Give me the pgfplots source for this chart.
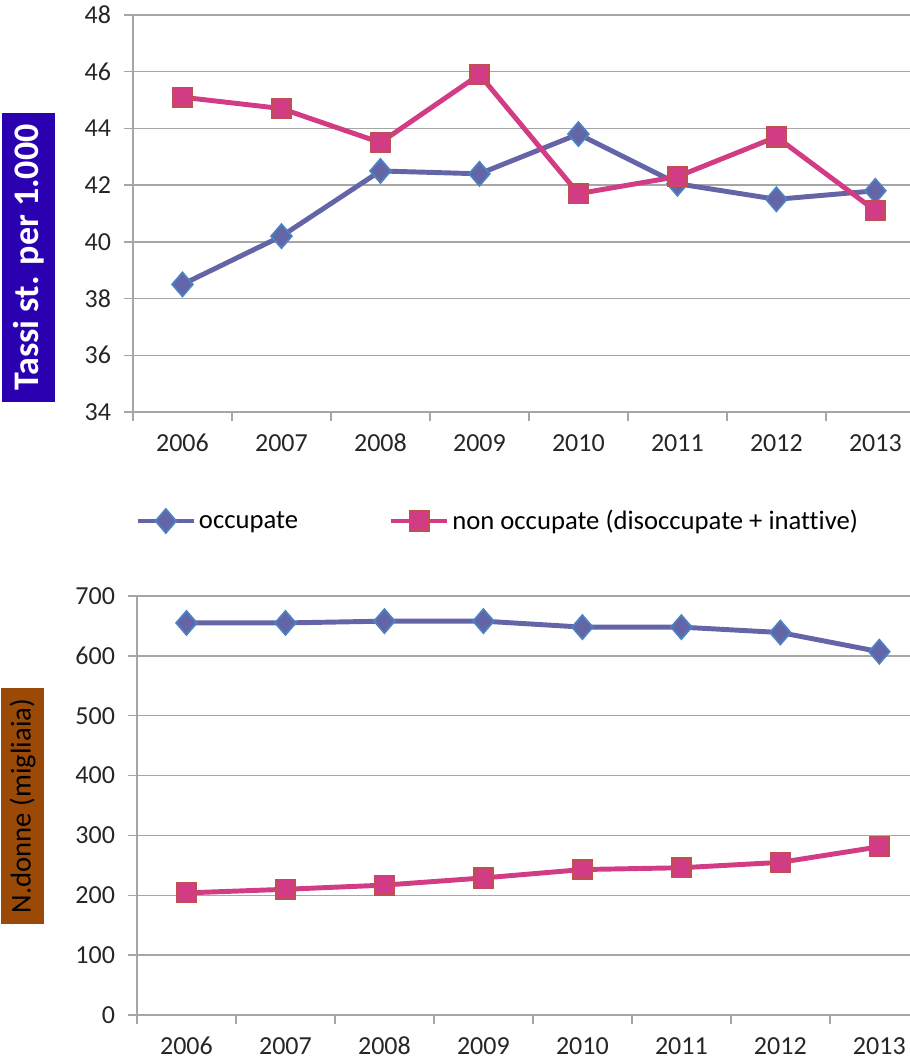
\documentclass[border=0pt]{standalone}
\usepackage{fontspec}
\setmainfont{Carlito}[Ligatures={NoCommon}]
\usepackage{pgfplots}
\pgfplotsset{compat=1.18}
\definecolor{occ}{HTML}{6465A6}
\definecolor{occedge}{HTML}{4A82C3}
\definecolor{non}{HTML}{D23C84}
\definecolor{nonedge}{HTML}{C0504D}
\definecolor{gridc}{HTML}{A6A6A6}
\definecolor{tickc}{HTML}{262626}
\definecolor{boxblue}{HTML}{2B00B0}
\definecolor{boxbrown}{HTML}{9A4A06}

\pgfplotstableread{
x occ non
0 38.5 45.1
1 40.2 44.7
2 42.5 43.5
3 42.4 45.9
4 43.8 41.7
5 42.05 42.3
6 41.5 43.7
7 41.8 41.1
}\tassi

\pgfplotstableread{
x occ non
0 655 204
1 655 210
2 658 217
3 658 229
4 648 243
5 648 246
6 639 255
7 607 281
}\donne

\pgfplotsset{
  mystyle/.style={
    scale only axis,
    xmin=-0.5,
    ymajorgrids,
    grid style={gridc, line width=1.1pt},
    axis x line*=bottom, axis y line*=left,
    axis line style={gridc, line width=1.1pt},
    xtick={0,1,2,3,4,5,6,7},
    xticklabels={2006,2007,2008,2009,2010,2011,2012,2013},
    major x tick style={draw=none},
    extra x ticks={-0.5,0.5,1.5,2.5,3.5,4.5,5.5,6.5},
    extra x tick labels={},
    extra x tick style={tick align=outside, major tick length=7pt, major x tick style={draw=gridc, line width=1.1pt}},
    ytick align=outside,
    major y tick style={gridc, line width=1.1pt},
    major tick length=7pt,
    tick label style={font=\fontsize{19.5}{19.5}\selectfont, text=tickc},
    /pgf/number format/assume math mode=true,
    xticklabel style={anchor=base, yshift=-30pt},
    yticklabel style={anchor=east, xshift=-6pt},
    clip=false,
  },
  occstyle/.style={color=occ, line width=3.7pt, mark=diamond*, mark size=9pt,
    mark options={fill=occ, draw=occedge, line width=1.3pt, xscale=1.15}},
  nonstyle/.style={color=non, line width=3.7pt, mark=square*, mark size=7.3pt,
    mark options={fill=non, draw=nonedge, line width=1.3pt}},
}

\begin{document}
\begin{tikzpicture}
\useasboundingbox (0,0) rectangle (682.5pt,795pt);
\begin{axis}[
  mystyle,
  at={(99.75pt,486pt)}, anchor=south west,
  width=582.75pt, height=297.75pt,
  xmax=7.35,
  ymin=34, ymax=48, ytick={34,36,...,48},
  ylabel={\bfseries Tassi st. per 1.000},
  ylabel style={at={(axis description cs:-0.1345,0.389)}, anchor=center, rotate=0,
    fill=boxblue, text=white, font=\fontsize{27}{27}\selectfont,
    minimum width=216.75pt, minimum height=39.75pt, inner sep=0pt},
  legend columns=2,
  legend style={draw=none, fill=none, at={(axis description cs:0.4698,-0.2746)}, anchor=center,
    font=\fontsize{20}{20}\selectfont, text=black,
    /tikz/every even column/.append style={column sep=66pt}},
  legend image code/.code={\draw[#1, mark repeat=2, mark phase=2] plot coordinates {(0pt,0pt) (21pt,0pt) (42pt,0pt)};},
]
\addplot[occstyle] table[x=x, y=occ] {\tassi};
\addlegendentry{occupate}
\addplot[nonstyle] table[x=x, y=non] {\tassi};
\addlegendentry{non occupate (disoccupate + inattive)}
\end{axis}

\begin{axis}[
  mystyle,
  at={(102.75pt,33.75pt)}, anchor=south west,
  width=579.75pt, height=314.25pt,
  xmax=7.31,
  ymin=0, ymax=700, ytick={0,100,...,700},
  ylabel={N.donne (migliaia)},
  ylabel style={at={(axis description cs:-0.148,0.499)}, anchor=center, rotate=0,
    fill=boxbrown, text=black, font=\fontsize{21.5}{21.5}\selectfont,
    minimum width=177pt, minimum height=32.25pt, inner sep=0pt},
]
\addplot[occstyle] table[x=x, y=occ] {\donne};
\addplot[nonstyle] table[x=x, y=non] {\donne};
\end{axis}
\end{tikzpicture}
\end{document}
